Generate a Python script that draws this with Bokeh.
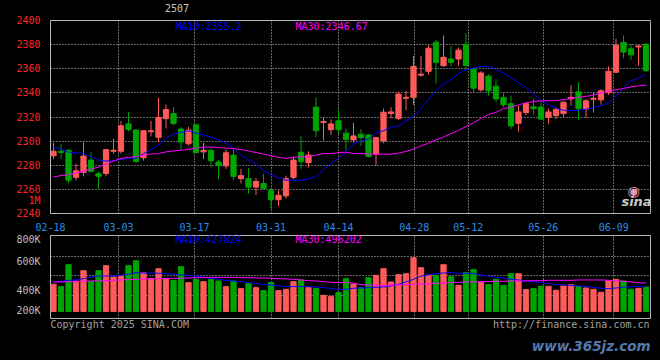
from bokeh.plotting import figure
from bokeh.models import Range1d, FixedTicker, Label, LinearAxis, GlobalInlineStyleSheet
from bokeh.layouts import column
from bokeh.embed import file_html
from bokeh.resources import INLINE

# ---------------- data ----------------
OPEN = [2287.8, 2291.6, 2292.4, 2270.0, 2274.1, 2284.3, 2273.0, 2273.2, 2291.6, 2291.6,
        2314.3, 2309.2, 2286.2, 2307.8, 2303.2, 2318.6, 2323.0, 2310.0, 2297.8, 2313.5,
        2291.1, 2292.4, 2282.7, 2279.5, 2288.4, 2268.9, 2268.9, 2261.9, 2264.9, 2258.9,
        2251.4, 2254.6, 2270.0, 2290.8, 2282.2, 2328.1, 2315.4, 2309.5, 2316.8, 2306.5,
        2301.0, 2305.7, 2305.1, 2289.3, 2300.1, 2322.9, 2318.8, 2335.5, 2336.3, 2354.7,
        2357.9, 2381.9, 2362.5, 2368.1, 2368.1, 2380.3, 2359.8, 2342.5, 2353.9, 2345.5,
        2336.3, 2331.0, 2314.8, 2323.7, 2328.5, 2328.2, 2319.6, 2321.2, 2322.9, 2335.0,
        2340.9, 2326.4, 2334.7, 2334.2, 2340.4, 2357.1, 2381.9, 2376.5, 2378.1, 2380.3]
HIGH = [2298.6, 2297.3, 2293.2, 2281.1, 2298.9, 2290.8, 2274.9, 2293.5, 2301.9, 2316.8,
        2324.1, 2310.0, 2309.2, 2316.8, 2336.2, 2330.3, 2328.1, 2311.4, 2311.9, 2314.1,
        2298.6, 2293.8, 2284.3, 2293.0, 2293.0, 2277.0, 2277.6, 2269.5, 2273.0, 2261.4,
        2259.2, 2271.4, 2287.0, 2304.6, 2291.6, 2336.2, 2319.5, 2318.1, 2326.2, 2310.5,
        2315.2, 2309.8, 2306.0, 2303.5, 2327.0, 2328.2, 2340.9, 2341.7, 2370.6, 2370.6,
        2379.5, 2384.0, 2387.5, 2378.7, 2377.6, 2389.4, 2360.6, 2357.9, 2355.2, 2351.2,
        2339.8, 2337.7, 2329.1, 2331.8, 2335.0, 2332.8, 2326.9, 2328.2, 2332.8, 2346.3,
        2349.0, 2335.0, 2340.4, 2343.1, 2361.9, 2384.9, 2387.5, 2380.8, 2379.4, 2381.3]
LOW = [2285.1, 2285.1, 2265.1, 2267.6, 2270.8, 2274.3, 2260.5, 2270.8, 2289.7, 2289.7,
       2308.1, 2282.2, 2283.8, 2303.8, 2299.2, 2310.5, 2313.2, 2293.0, 2296.5, 2289.7,
       2285.1, 2278.4, 2268.6, 2277.0, 2267.6, 2264.9, 2256.5, 2255.4, 2259.5, 2243.8,
       2246.0, 2252.4, 2268.1, 2277.0, 2278.1, 2303.2, 2300.5, 2305.1, 2305.9, 2292.4,
       2298.8, 2296.1, 2286.5, 2279.7, 2298.3, 2318.8, 2317.5, 2325.6, 2330.1, 2353.3,
       2355.2, 2347.7, 2361.9, 2361.9, 2362.5, 2358.7, 2340.4, 2340.9, 2337.7, 2332.3,
       2328.2, 2309.9, 2308.0, 2321.5, 2322.0, 2317.5, 2314.0, 2318.3, 2319.6, 2329.6,
       2317.5, 2319.4, 2323.7, 2330.1, 2338.2, 2356.5, 2368.7, 2367.3, 2362.5, 2357.9]
CLOSE = [2291.6, 2290.5, 2267.6, 2275.4, 2287.6, 2274.9, 2270.8, 2293.0, 2292.4, 2312.7,
         2309.7, 2283.0, 2308.6, 2308.6, 2319.5, 2326.2, 2314.6, 2299.2, 2309.2, 2290.5,
         2292.4, 2283.8, 2279.7, 2290.3, 2270.8, 2271.4, 2261.9, 2266.5, 2260.8, 2251.4,
         2255.1, 2268.9, 2284.3, 2283.0, 2288.4, 2308.6, 2316.2, 2314.3, 2309.5, 2301.4,
         2304.3, 2302.9, 2287.3, 2302.9, 2324.0, 2324.2, 2339.0, 2336.3, 2361.9, 2355.5,
         2377.0, 2365.2, 2369.5, 2365.4, 2375.4, 2362.7, 2343.9, 2356.5, 2341.7, 2335.0,
         2330.1, 2312.6, 2324.2, 2331.0, 2326.9, 2318.3, 2324.2, 2326.4, 2332.3, 2336.3,
         2326.9, 2333.4, 2335.5, 2341.7, 2357.9, 2379.5, 2373.8, 2371.6, 2378.9, 2358.4]
MA10 = [2294.6, 2293.8, 2290.8, 2290.3, 2289.7, 2287.0, 2284.3, 2283.5, 2283.8, 2284.9,
        2285.7, 2285.7, 2289.7, 2293.0, 2297.0, 2302.4, 2305.9, 2307.3, 2308.6, 2306.8,
        2304.9, 2303.2, 2301.1, 2298.4, 2294.6, 2288.4, 2284.3, 2281.1, 2275.7, 2272.2,
        2269.5, 2267.6, 2267.6, 2267.6, 2268.6, 2270.8, 2276.2, 2281.6, 2285.7, 2291.1,
        2297.6, 2300.2, 2301.6, 2307.0, 2308.6, 2311.4, 2312.7, 2316.8, 2320.9, 2327.0,
        2334.6, 2342.2, 2346.9, 2351.6, 2356.0, 2359.2, 2360.6, 2361.9, 2361.9, 2359.5,
        2356.5, 2352.5, 2348.5, 2344.4, 2339.0, 2333.6, 2330.1, 2327.4, 2325.6, 2325.3,
        2325.3, 2326.4, 2328.2, 2329.1, 2331.8, 2337.1, 2344.4, 2349.8, 2352.5, 2355.2]
MA30 = [2270.3, 2271.4, 2272.2, 2273.5, 2274.9, 2277.0, 2278.4, 2281.1, 2283.5, 2285.7,
        2286.5, 2287.0, 2288.4, 2289.2, 2289.7, 2291.1, 2291.9, 2292.4, 2293.2, 2294.3,
        2295.1, 2295.1, 2294.6, 2294.3, 2293.8, 2293.0, 2291.9, 2290.5, 2289.2, 2287.8,
        2286.5, 2285.7, 2286.5, 2287.0, 2287.0, 2288.4, 2289.7, 2289.7, 2290.5, 2290.8,
        2289.8, 2289.8, 2289.2, 2289.2, 2289.2, 2289.2, 2290.1, 2291.4, 2293.4, 2296.1,
        2298.3, 2301.0, 2303.4, 2306.2, 2308.9, 2312.2, 2315.2, 2318.8, 2322.1, 2323.8,
        2326.9, 2328.2, 2330.1, 2331.8, 2332.8, 2333.4, 2333.4, 2333.6, 2334.4, 2335.5,
        2336.3, 2337.1, 2338.2, 2339.8, 2341.5, 2342.5, 2343.6, 2345.0, 2345.8, 2346.4]
VOLUME_K = [473, 433, 813, 531, 709, 519, 709, 796, 600, 617,
            796, 882, 675, 571, 744, 571, 542, 779, 502, 559,
            519, 559, 531, 433, 531, 398, 484, 415, 363, 502,
            363, 386, 519, 548, 415, 398, 282, 260, 329, 571,
            473, 415, 588, 628, 744, 513, 640, 657, 934, 761,
            634, 628, 813, 606, 455, 675, 727, 502, 467, 559,
            455, 657, 657, 381, 398, 438, 438, 369, 444, 467,
            433, 410, 386, 334, 531, 559, 531, 386, 403, 427]
VOL_MA10_K = [519, 525, 542, 548, 571, 600, 617, 617, 617, 629,
              646, 675, 669, 669, 663, 663, 646, 634, 629, 617,
              600, 577, 559, 542, 531, 519, 502, 490, 467, 461,
              444, 433, 433, 433, 433, 427, 415, 398, 386, 386,
              404, 409, 415, 421, 427, 444, 473, 513, 559, 617,
              634, 657, 669, 675, 663, 663, 663, 634, 617, 594,
              582, 559, 548, 531, 519, 502, 490, 467, 461, 455,
              444, 433, 421, 404, 398, 409, 421, 433, 433, 428]
VOL_MA30_K = [513, 513, 519, 519, 525, 531, 531, 536, 542, 548,
              554, 559, 565, 565, 571, 571, 577, 577, 582, 588,
              588, 594, 594, 594, 594, 588, 588, 582, 582, 577,
              571, 565, 559, 548, 536, 531, 519, 507, 502, 502,
              490, 467, 461, 455, 455, 461, 461, 467, 473, 479,
              484, 490, 496, 502, 507, 513, 513, 519, 519, 525,
              525, 531, 531, 531, 536, 536, 542, 542, 542, 542,
              548, 548, 548, 548, 542, 531, 525, 513, 502, 496]

DATE_LABELS = ["02-18", "03-03", "03-17", "03-31", "04-14", "04-28", "05-12", "05-26", "06-09"]
PRICE_TICKS = [2240, 2260, 2280, 2300, 2320, 2340, 2360, 2380, 2400]
VOL_TICK_LABELS = ["800K", "600K", "400K", "200K"]
TITLE_TEXT = "2507"
UNIT_TEXT = "1M"
MA_PRICE_TEXT = ["MA10:2355.2", "MA30:2346.67"]
MA_VOL_TEXT = ["MA10:427824", "MA30:496202"]
COPYRIGHT = "Copyright 2025 SINA.COM"
URL = "http://finance.sina.com.cn"
WATERMARK = "www.365jz.com"
LOGO = "sina"

# ---------------- layout constants (canvas pixels) ----------------
DATE_POS = [-0.4, 8.67, 18.8, 29.0, 38.0, 48.1, 55.3, 65.3, 74.7]
X_START, X_END = -0.4, 79.6
P_LO, P_HI = 2240, 2400
V_LO, V_HI = -121, 1320
VOL_TICK_POS = [1320, 874, 358, 12]
VOL_GRID_POS = [964, 618, 272]
UNIT_POS = 2250.7

W = 658
FRAME_L, FRAME_W = 50, 600
P_TOP, P_H, P_BOT = 18, 195, 20
V_TOP, V_H = 235, 83
FOOT_TOP, FOOT_H = 319, 41

RED = "#FF5A5A"
GREEN = "#00A400"
BLUE = "#0000FF"
MAG = "#FF00FF"
GRID = "#C8C8C8"
FONT = "DejaVu Sans Mono"


def px_x(px):
    return X_START + (px - FRAME_L) * (X_END - X_START) / FRAME_W


def px_p(py):
    return P_HI - (py - P_TOP) * (P_HI - P_LO) / P_H


def px_v(py):
    return V_HI - (py - V_TOP) * (V_HI - V_LO) / V_H


N = len(CLOSE)
idx = list(range(N))
colors = [RED if c >= o else GREEN for o, c in zip(OPEN, CLOSE)]
body_top = [max(o, c) for o, c in zip(OPEN, CLOSE)]
body_bot = [min(o, c) for o, c in zip(OPEN, CLOSE)]

xr = Range1d(X_START, X_END)


def plain_axis(ax):
    ax.major_tick_line_color = None
    ax.minor_tick_line_color = None
    ax.axis_line_color = None
    ax.major_label_text_font = FONT
    ax.major_label_text_font_size = "10px"


def style_common(fig):
    fig.background_fill_color = "black"
    fig.border_fill_color = "black"
    fig.outline_line_color = "#B4B4B4"
    fig.outline_line_width = 1
    fig.grid.grid_line_color = GRID
    fig.grid.grid_line_dash = "1 2"
    fig.grid.grid_line_width = 1
    fig.xgrid.ticker = FixedTicker(ticks=DATE_POS[1:])
    for ax in fig.axis:
        plain_axis(ax)


# ---------------- price panel ----------------
p = figure(width=W, height=P_TOP + P_H + P_BOT, x_range=xr, y_range=Range1d(P_LO, P_HI),
           output_backend="svg", toolbar_location=None,
           min_border_left=FRAME_L, min_border_right=W - FRAME_L - FRAME_W,
           min_border_top=P_TOP, min_border_bottom=P_BOT)
style_common(p)
p.ygrid.ticker = FixedTicker(ticks=PRICE_TICKS[1:-1])
p.yaxis.ticker = FixedTicker(ticks=PRICE_TICKS + [UNIT_POS])
p.yaxis.major_label_overrides = {UNIT_POS: UNIT_TEXT}
p.yaxis.major_label_text_color = "#FF2424"
p.yaxis.major_label_standoff = 4
p.xaxis.ticker = FixedTicker(ticks=DATE_POS)
p.xaxis.major_label_overrides = {pos: lab for pos, lab in zip(DATE_POS, DATE_LABELS)}
p.xaxis.major_label_text_color = "#2A8CEB"
p.xaxis.major_label_standoff = 3

# code shown above the chart, as the label of a top axis
title_pos = px_x(176.5)
top_axis = LinearAxis(ticker=FixedTicker(ticks=[title_pos]),
                      major_label_overrides={title_pos: TITLE_TEXT})
plain_axis(top_axis)
top_axis.major_label_text_color = "#C8C8C8"
top_axis.major_label_standoff = 3
p.add_layout(top_axis, "above")

p.segment(x0=idx, y0=HIGH, x1=idx, y1=LOW, color=colors, line_width=1)
p.vbar(x=idx, width=0.7, top=body_top, bottom=body_bot, fill_color=colors, line_color=colors)
p.line(idx, MA10, color=BLUE, line_width=1)
p.line(idx, MA30, color=MAG, line_width=1)

p.add_layout(Label(x=px_x(175), y=px_p(24), text=MA_PRICE_TEXT[0], text_color=BLUE,
                   text_font=FONT, text_font_size="10px", text_baseline="middle"))
p.add_layout(Label(x=px_x(295), y=px_p(24), text=MA_PRICE_TEXT[1], text_color=MAG,
                   text_font=FONT, text_font_size="10px", text_baseline="middle"))
p.add_layout(Label(x=px_x(633), y=px_p(190), text="\u25c9", text_color="#E89AA8",
                   text_font="DejaVu Sans", text_font_size="14px",
                   text_baseline="middle", text_align="center"))
p.add_layout(Label(x=px_x(636), y=px_p(201), text=LOGO, text_color="#C8C8C8",
                   text_font="DejaVu Sans", text_font_size="13px", text_font_style="bold italic",
                   text_baseline="middle", text_align="center"))

# ---------------- volume panel ----------------
v_top_border = V_TOP - (P_TOP + P_H + P_BOT)
v = figure(width=W, height=v_top_border + V_H + 1, x_range=xr, y_range=Range1d(V_LO, V_HI),
           output_backend="svg", toolbar_location=None, x_axis_location=None,
           min_border_left=FRAME_L, min_border_right=W - FRAME_L - FRAME_W,
           min_border_top=v_top_border, min_border_bottom=1)
style_common(v)
v.ygrid.ticker = FixedTicker(ticks=VOL_GRID_POS)
v.yaxis.ticker = FixedTicker(ticks=VOL_TICK_POS)
v.yaxis.major_label_overrides = {pos: lab for pos, lab in zip(VOL_TICK_POS, VOL_TICK_LABELS)}
v.yaxis.major_label_text_color = "#BEBEBE"
v.yaxis.major_label_standoff = 4

v.vbar(x=idx, width=0.7, top=VOLUME_K, bottom=0, fill_color=colors, line_color=colors)
v.line(idx, VOL_MA10_K, color=BLUE, line_width=1)
v.line(idx, VOL_MA30_K, color=MAG, line_width=1)

v.add_layout(Label(x=px_x(175), y=px_v(238.5), text=MA_VOL_TEXT[0], text_color=BLUE,
                   text_font=FONT, text_font_size="10px", text_baseline="middle"))
v.add_layout(Label(x=px_x(295), y=px_v(238.5), text=MA_VOL_TEXT[1], text_color=MAG,
                   text_font=FONT, text_font_size="10px", text_baseline="middle"))

# ---------------- footer (texts under the chart) ----------------
foot = figure(width=W, height=FOOT_H, x_range=xr, y_range=Range1d(FOOT_TOP + FOOT_H, FOOT_TOP),
              output_backend="svg", toolbar_location=None,
              x_axis_location=None, y_axis_location=None,
              min_border_left=FRAME_L, min_border_right=W - FRAME_L - FRAME_W,
              min_border_top=0, min_border_bottom=0)
foot.background_fill_color = "black"
foot.border_fill_color = "black"
foot.outline_line_color = None
foot.grid.visible = False
foot.add_layout(Label(x=px_x(50), y=323.5, text=COPYRIGHT, text_color="#A0A0A0",
                      text_font=FONT, text_font_size="10px", text_baseline="middle"))
foot.add_layout(Label(x=px_x(649), y=323.5, text=URL, text_color="#A0A0A0",
                      text_font=FONT, text_font_size="10px", text_baseline="middle",
                      text_align="right"))
foot.add_layout(Label(x=px_x(650), y=345, text=WATERMARK, text_color="#5479AD",
                      text_font="DejaVu Sans", text_font_size="13.5px", text_font_style="bold italic",
                      text_baseline="middle", text_align="right"))

layout = column(p, v, foot, spacing=0)
layout.stylesheets = [GlobalInlineStyleSheet(css="html, body { background-color: #000000; }")]

open("out.html", "w").write(file_html(layout, INLINE))
